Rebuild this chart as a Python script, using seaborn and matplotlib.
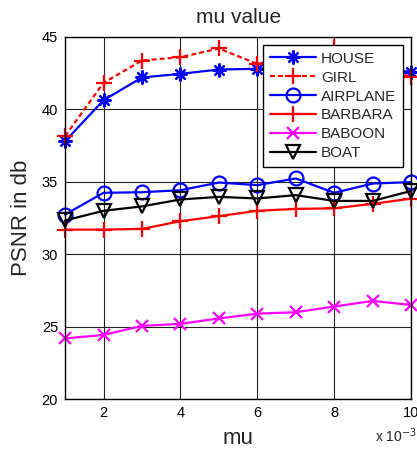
import numpy as np
import pandas as pd
import matplotlib
matplotlib.use("Agg")
import matplotlib.pyplot as plt
import seaborn as sns

mu = [1, 2, 3, 4, 5, 6, 7, 8, 9, 10]  # x 10^-3
house = [37.8, 40.63, 42.2, 42.45, 42.75, 42.8, 42.9, 42.8, 42.7, 42.6]
girl = [38.15, 41.83, 43.37, 43.6, 44.2, 43.14, 43.7, 44.3, 43.0, 42.24]
airplane = [32.74, 34.24, 34.28, 34.42, 34.95, 34.77, 35.23, 34.24, 34.88, 34.98]
barbara = [31.7, 31.7, 31.75, 32.28, 32.63, 33.0, 33.13, 33.17, 33.48, 33.84]
baboon = [24.19, 24.43, 25.06, 25.2, 25.57, 25.9, 26.0, 26.39, 26.78, 26.5]
boat = [32.33, 33.0, 33.3, 33.78, 33.96, 33.85, 34.08, 33.68, 33.68, 34.37]

series = {
    "HOUSE": house,
    "GIRL": girl,
    "AIRPLANE": airplane,
    "BARBARA": barbara,
    "BABOON": baboon,
    "BOAT": boat,
}
styles = {
    "HOUSE": dict(color="#0000ff", marker=(8, 2, 0), linestyle="-", ms=10),
    "GIRL": dict(color="#ff0000", marker="+", linestyle=(0, (2.2, 1.4)), ms=11),
    "AIRPLANE": dict(color="#0000ff", marker="o", linestyle="-", ms=10),
    "BARBARA": dict(color="#ff0000", marker="+", linestyle="-", ms=11),
    "BABOON": dict(color="#ff00ff", marker="x", linestyle="-", ms=8),
    "BOAT": dict(color="#000000", marker="v", linestyle="-", ms=10),
}

sns.set_style("white")
plt.rcParams["font.family"] = ["Liberation Sans", "DejaVu Sans"]

fig = plt.figure(figsize=(4.17, 4.5), dpi=100)
ax = fig.add_axes([0.156, 0.113, 0.830, 0.805])

for name, vals in series.items():
    st = styles[name]
    df = pd.DataFrame({"mu": mu, "psnr": vals})
    sns.lineplot(data=df, x="mu", y="psnr", ax=ax, label=name,
                 color=st["color"], marker=st["marker"], linestyle=st["linestyle"],
                 markersize=st["ms"], markerfacecolor="none",
                 markeredgecolor=st["color"], markeredgewidth=1.6,
                 linewidth=1.6, clip_on=False)

ax.set_xlim(1, 10)
ax.set_ylim(20, 45)
ax.set_xticks([2, 4, 6, 8, 10])
ax.set_yticks([20, 25, 30, 35, 40, 45])
ax.grid(True, color="#222222", linewidth=0.8, linestyle="-")
ax.set_axisbelow(True)
for sp in ax.spines.values():
    sp.set_color("black")
    sp.set_linewidth(1.0)
ax.tick_params(direction="in", length=4, labelsize=10.5, colors="black", pad=5)

ax.set_title("mu value", fontsize=15, pad=10)
ax.set_xlabel("mu", fontsize=16, labelpad=6)
ax.set_ylabel("PSNR in db", fontsize=16, labelpad=7)
fig.text(0.90, 0.012, "x 10$^{-3}$", fontsize=10, ha="left", va="bottom")

leg = ax.legend(loc="upper right", bbox_to_anchor=(0.977, 0.978), fontsize=11,
                frameon=True, fancybox=False, edgecolor="black", framealpha=1,
                handlelength=3.0, handletextpad=0.35, labelspacing=0.32,
                borderpad=0.45, borderaxespad=0.0)
leg.get_frame().set_linewidth(1.0)

fig.savefig("out.png", dpi=100)
